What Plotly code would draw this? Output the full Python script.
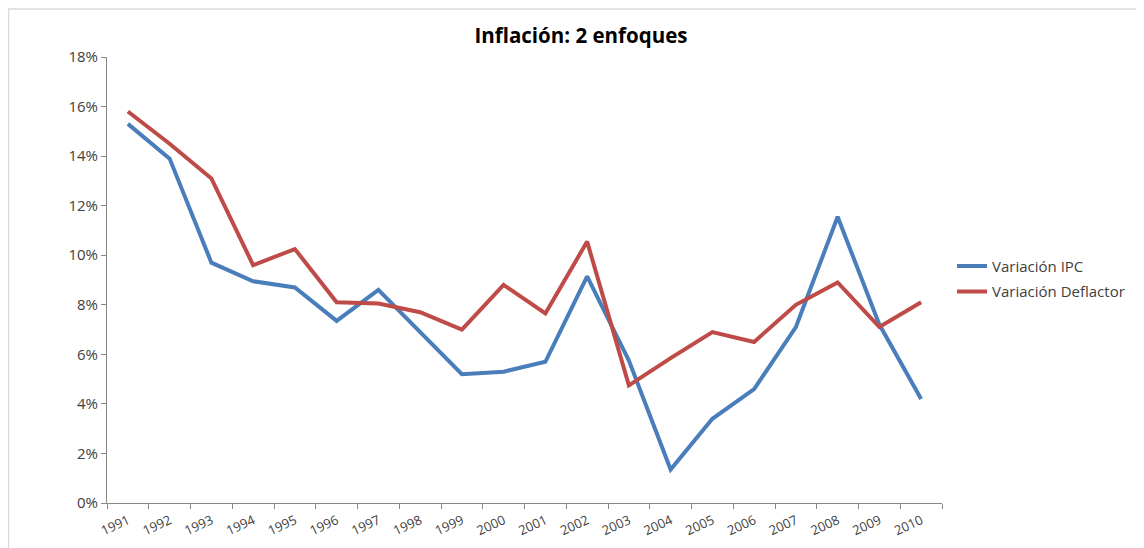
import plotly.graph_objects as go

years = [str(y) for y in range(1991, 2011)]
ipc = [15.3, 13.9, 9.7, 8.95, 8.7, 7.35, 8.6, 6.9, 5.2, 5.3, 5.7, 9.15, 5.75, 1.35, 3.4, 4.6, 7.1, 11.55, 7.2, 4.2]
deflactor = [15.8, 14.5, 13.1, 9.6, 10.25, 8.1, 8.05, 7.7, 7.0, 8.8, 7.65, 10.55, 4.75, 5.85, 6.9, 6.5, 8.0, 8.9, 7.1, 8.1]

ipc_f = [v / 100 for v in ipc]
def_f = [v / 100 for v in deflactor]

FONT = "Open Sans, Lato, sans-serif"

fig = go.Figure()
fig.add_trace(go.Scatter(x=years, y=ipc_f, mode="lines", name="Variación IPC",
                         legendgroup="a",
                         line=dict(color="#4A7EBB", width=4)))
fig.add_trace(go.Scatter(x=years, y=def_f, mode="lines", name="Variación Deflactor",
                         legendgroup="b",
                         line=dict(color="#BE4B48", width=4)))

# page has an 8px body margin, so the figure is offset by 8px
fig.update_layout(
    width=1136, height=540,
    margin=dict(l=99, r=202, t=49, b=45),
    paper_bgcolor="white", plot_bgcolor="white",
    font=dict(family=FONT, color="#404040"),
    title=dict(text="<b>Inflación: 2 enfoques</b>", x=0.5044, xanchor="center",
               y=0.948, yanchor="middle", font=dict(size=20.5, color="#000000", family=FONT)),
    legend=dict(x=1.012, y=0.503, xanchor="left", yanchor="middle",
                font=dict(size=15, color="#404040"), itemwidth=30,
                tracegroupgap=3, bgcolor="rgba(0,0,0,0)"),
    showlegend=True,
)
fig.update_xaxes(type="category", range=[-0.5, 19.5], showline=True, linecolor="#888888", linewidth=1,
                 ticks="outside", tickson="boundaries", ticklen=5, tickcolor="#888888",
                 tickangle=-25, tickfont=dict(size=13, color="#404040"),
                 ticklabelstandoff=4, automargin=False,
                 showgrid=False, zeroline=False)
fig.update_yaxes(range=[0, 0.18], dtick=0.02, tickformat=".0%", showline=True,
                 linecolor="#888888", linewidth=1, ticks="outside", ticklen=5,
                 tickcolor="#888888", tickfont=dict(size=15, color="#404040"),
                 automargin=False,
                 showgrid=False, zeroline=False)

fig.add_shape(type="rect", xref="paper", yref="paper",
              x0=-0.118, x1=1.3, y0=-0.2, y1=1.1076,
              line=dict(color="#D9D9D9", width=1.5), fillcolor="rgba(0,0,0,0)", layer="below")

fig.write_html("out.html")
